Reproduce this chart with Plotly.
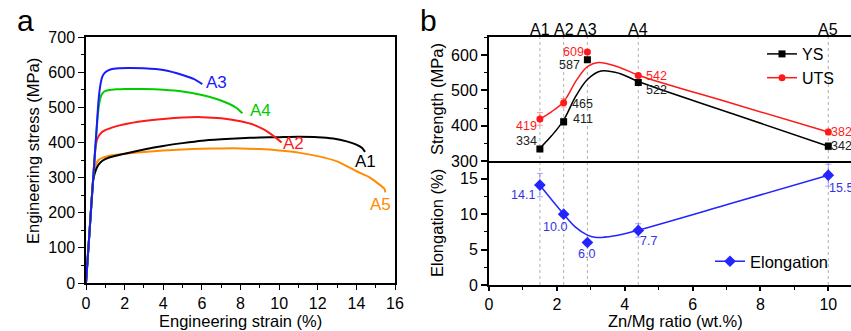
import plotly.graph_objects as go

# ---------------- Panel a: stress-strain curves ----------------
a1_strain = [0, 0.2, 0.38, 0.5, 0.65, 0.85, 1.2, 2, 3, 4, 5, 6, 7, 8, 9, 10, 11, 12, 12.8, 13.5, 14.0, 14.3, 14.45]
a1_stress = [0, 160, 295, 320, 337, 348, 357, 368, 380, 390, 398, 405, 409, 412, 414, 415, 416, 415, 411, 403, 394, 384, 373]
a2_strain = [0, 0.2, 0.4, 0.5, 0.6, 0.8, 1.0, 1.5, 2, 3, 4, 5, 6, 7, 8, 8.7, 9.2, 9.6, 9.9, 10.13]
a2_stress = [0, 160, 320, 390, 412, 428, 435, 445, 452, 461, 467, 471, 472, 469, 460, 450, 437, 423, 410, 400]
a3_strain = [0, 0.2, 0.4, 0.55, 0.65, 0.75, 0.85, 1.0, 1.3, 1.7, 2.2, 3, 4, 5, 5.6, 6.02]
a3_stress = [0, 160, 320, 440, 520, 565, 588, 600, 608, 611, 612, 611, 606, 592, 580, 566]
a4_strain = [0, 0.2, 0.4, 0.6, 0.7, 0.8, 0.95, 1.2, 1.6, 2, 3, 4, 5, 6, 6.8, 7.4, 7.8, 8.0, 8.1]
a4_stress = [0, 160, 320, 470, 515, 535, 545, 549, 551, 552, 552, 550, 545, 535, 523, 510, 498, 488, 483]
a5_strain = [0, 0.2, 0.38, 0.5, 0.65, 0.85, 1.2, 2, 3, 4, 5, 6, 7, 8, 9, 10, 11, 12, 13, 14, 14.7, 15.2, 15.45, 15.5]
a5_stress = [0, 160, 300, 335, 350, 356, 362, 368, 373, 377, 380, 382, 383, 383, 381, 377, 371, 361, 346, 318, 300, 280, 268, 258]

curve_names = ["A1", "A2", "A3", "A4", "A5"]
curve_label_x = [14.48, 10.74, 6.78, 9.06, 15.26]
curve_label_y = [347, 396, 571, 492, 224]

# ---------------- Panel b: strength & elongation ----------------
alloys = ["A1", "A2", "A3", "A4", "A5"]
zn_mg = [1.5, 2.2, 2.9, 4.4, 10.0]
ys = [334, 411, 587, 522, 342]
ys_err = [6, 10, 5, 6, 10]
uts = [419, 465, 609, 542, 382]
uts_err = [18, 12, 5, 6, 8]
elong = [14.1, 10.0, 6.0, 7.7, 15.5]
elong_err = [1.65, 0.3, 0.3, 0.95, 1.55]
ys_text = ["334", "411", "587", "522", "342"]
uts_text = ["419", "465", "609", "542", "382"]
elong_text = ["14.1", "10.0", "6.0", "7.7", "15.5"]

# fitted (smooth) curves
ys_fit_x = [1.5, 1.85, 2.2, 2.55, 2.9, 3.3, 3.85, 4.4, 7.2, 10.0]
ys_fit_y = [336, 372, 416, 482, 531, 555, 548, 525, 433, 342]
uts_fit_x = [1.5, 1.85, 2.2, 2.58, 2.9, 3.22, 3.85, 4.4, 7.2, 10.0]
uts_fit_y = [419, 440, 468, 529, 567, 579, 565, 543, 462, 382]
el_fit_x = [1.5, 2.2, 2.54, 2.9, 3.17, 3.66, 4.4, 7.2, 10.0]
el_fit_y = [14.08, 10.0, 8.2, 7.04, 6.7, 6.9, 7.75, 11.6, 15.5]

FONT = "Arial, Liberation Sans, sans-serif"
W, H = 851, 331

def px_x(p):
    return p / W

def px_y(p):
    return (H - p) / H

fig = go.Figure()

colors_a = ["#000000", "#ff1a1a", "#1a1aff", "#00cc00", "#ff8c00"]
strains = [a1_strain, a2_strain, a3_strain, a4_strain, a5_strain]
stresses = [a1_stress, a2_stress, a3_stress, a4_stress, a5_stress]
for i in [4, 0, 1, 3, 2]:
    fig.add_trace(go.Scatter(x=strains[i], y=stresses[i], mode="lines",
                             line=dict(color=colors_a[i], width=2, shape="spline", smoothing=0.6),
                             showlegend=False, xaxis="x", yaxis="y", hoverinfo="skip"))

annotations = []
for i, name in enumerate(curve_names):
    annotations.append(dict(x=curve_label_x[i], y=curve_label_y[i], xref="x", yref="y",
                            text=name, showarrow=False, xanchor="center", yanchor="middle",
                            font=dict(family=FONT, size=17, color=colors_a[i])))

RED = "#ff1a1a"
BLUE = "#2424ff"
DARK = "#222222"
# upper panel (x3 / y3)
fig.add_trace(go.Scatter(x=ys_fit_x, y=ys_fit_y, mode="lines", line=dict(color="#000000", width=1.5, shape="spline", smoothing=1.0),
                         showlegend=False, xaxis="x3", yaxis="y3", hoverinfo="skip"))
fig.add_trace(go.Scatter(x=uts_fit_x, y=uts_fit_y, mode="lines", line=dict(color=RED, width=1.5, shape="spline", smoothing=1.0),
                         showlegend=False, xaxis="x3", yaxis="y3", hoverinfo="skip"))
fig.add_trace(go.Scatter(x=zn_mg, y=ys, mode="markers", marker=dict(symbol="square", size=7, color="#000000"),
                         error_y=dict(type="data", array=ys_err, color="rgba(120,120,120,0.7)", thickness=1, width=3),
                         showlegend=False, xaxis="x3", yaxis="y3"))
fig.add_trace(go.Scatter(x=zn_mg, y=uts, mode="markers", marker=dict(symbol="circle", size=7, color=RED),
                         error_y=dict(type="data", array=uts_err, color="rgba(255,110,110,0.7)", thickness=1, width=3),
                         showlegend=False, xaxis="x3", yaxis="y3"))
# lower panel (x2 / y2)
fig.add_trace(go.Scatter(x=el_fit_x, y=el_fit_y, mode="lines", line=dict(color=BLUE, width=1.5, shape="spline", smoothing=1.0),
                         showlegend=False, xaxis="x2", yaxis="y2", hoverinfo="skip"))
fig.add_trace(go.Scatter(x=zn_mg, y=elong, mode="markers", marker=dict(symbol="diamond", size=9, color=BLUE),
                         error_y=dict(type="data", array=elong_err, color="rgba(110,110,255,0.6)", thickness=1, width=3),
                         showlegend=False, xaxis="x2", yaxis="y2"))
# legend entries
fig.add_trace(go.Scatter(x=[None], y=[None], mode="lines+markers", name="YS",
                         line=dict(color="#000000", width=1.5), marker=dict(symbol="square", size=7, color="#000000"),
                         xaxis="x3", yaxis="y3", legend="legend"))
fig.add_trace(go.Scatter(x=[None], y=[None], mode="lines+markers", name="UTS",
                         line=dict(color=RED, width=1.5), marker=dict(symbol="circle", size=7, color=RED),
                         xaxis="x3", yaxis="y3", legend="legend"))
fig.add_trace(go.Scatter(x=[None], y=[None], mode="lines+markers", name="Elongation",
                         line=dict(color=BLUE, width=1.5), marker=dict(symbol="diamond", size=9, color=BLUE),
                         xaxis="x2", yaxis="y2", legend="legend2"))

uts_off = [(-13, -7), (19, -1), (-14, 0), (18, 0), (13, 0)]
uts_label_colors = [RED, DARK, RED, RED, RED]
ys_off = [(-13, 8), (19, 3), (-18, -5), (18, -7), (13, 0)]
el_off = [(-17, -10), (-9, -13), (-1, -12), (10, -11), (13, -13)]
for i in range(5):
    annotations.append(dict(x=zn_mg[i], y=uts[i], xref="x3", yref="y3", text=uts_text[i], showarrow=False,
                            xanchor="center", yanchor="middle", xshift=uts_off[i][0], yshift=uts_off[i][1],
                            font=dict(family=FONT, size=12.5, color=uts_label_colors[i])))
    annotations.append(dict(x=zn_mg[i], y=ys[i], xref="x3", yref="y3", text=ys_text[i], showarrow=False,
                            xanchor="center", yanchor="middle", xshift=ys_off[i][0], yshift=ys_off[i][1],
                            font=dict(family=FONT, size=12.5, color=DARK)))
    annotations.append(dict(x=zn_mg[i], y=elong[i], xref="x2", yref="y2", text=elong_text[i], showarrow=False,
                            xanchor="center", yanchor="middle", xshift=el_off[i][0], yshift=el_off[i][1],
                            font=dict(family=FONT, size=12.5, color="#3333e6")))
    annotations.append(dict(x=zn_mg[i], y=px_y(29), xref="x3", yref="paper", text=alloys[i], showarrow=False,
                            xanchor="center", yanchor="middle",
                            font=dict(family=FONT, size=16, color="black")))

def ann(x, y, text, size=16.5, angle=0):
    return dict(x=px_x(x), y=px_y(y), xref="paper", yref="paper", text=text, showarrow=False,
                xanchor="center", yanchor="middle", textangle=angle,
                font=dict(family=FONT, size=size, color="black"))

annotations += [
    ann(25, 20, "a", 30),
    ann(428, 20, "b", 30),
    ann(240.5, 321, "Engineering strain (%)"),
    ann(33, 151, "Engineering stress (MPa)", angle=-90),
    ann(675.6, 321, "Zn/Mg ratio (wt.%)"),
    ann(437, 99, "Strength (MPa)", angle=-90),
    ann(437, 223, "Elongation (%)", angle=-90),
]

shapes = []
for xv in zn_mg:
    shapes.append(dict(type="line", xref="x2", yref="paper", x0=xv, x1=xv, y0=px_y(285), y1=px_y(37),
                       line=dict(color="#b0b0b0", width=1, dash="dot"), layer="below"))

tickfont = dict(family=FONT, size=16, color="black")
xb_range = [0, (W - 489) / 33.93]

fig.update_layout(
    width=W, height=H, margin=dict(l=0, r=0, t=0, b=0, autoexpand=False),
    paper_bgcolor="white", plot_bgcolor="rgba(0,0,0,0)",
    font=dict(family=FONT, color="black"),
    annotations=annotations, shapes=shapes,
    xaxis=dict(domain=[px_x(86), px_x(395)], range=[0, 16], anchor="y", automargin=False,
               showline=True, linecolor="black", linewidth=1.5, mirror=True,
               ticks="outside", ticklen=5, tickwidth=1.2, tickcolor="black", dtick=2, tick0=0,
               minor=dict(ticks="outside", ticklen=3, dtick=1, tickcolor="black", tickwidth=1),
               showgrid=False, zeroline=False, tickfont=tickfont),
    yaxis=dict(domain=[px_y(283), px_y(37)], range=[0, 700], anchor="x", automargin=False,
               showline=True, linecolor="black", linewidth=1.5, mirror=True,
               ticks="outside", ticklen=6, tickwidth=1.2, tickcolor="black", dtick=100, tick0=0,
               minor=dict(ticks="outside", ticklen=3, dtick=50, tickcolor="black", tickwidth=1),
               showgrid=False, zeroline=False, tickfont=tickfont),
    xaxis2=dict(domain=[px_x(489), 1.0], range=xb_range, anchor="y2", automargin=False,
                showline=True, linecolor="black", linewidth=2,
                ticks="outside", ticklen=4, tickwidth=1.5, tickcolor="black", dtick=2, tick0=0,
                minor=dict(ticks="outside", ticklen=3, dtick=1, tickcolor="black", tickwidth=1),
                showgrid=False, zeroline=False, tickfont=tickfont),
    yaxis2=dict(domain=[px_y(285), px_y(161)], range=[0, 17.5], anchor="x2", automargin=False,
                showline=True, linecolor="black", linewidth=2,
                ticks="outside", ticklen=6, tickwidth=1.5, tickcolor="black", tickvals=[0, 5, 10, 15],
                minor=dict(ticks="outside", ticklen=3, dtick=2.5, tick0=0, tickcolor="black", tickwidth=1),
                showgrid=False, zeroline=False, tickfont=tickfont),
    xaxis3=dict(domain=[px_x(489), 1.0], range=xb_range, anchor="y3", automargin=False,
                showline=True, linecolor="black", linewidth=2, mirror=True, ticks="", showticklabels=False,
                showgrid=False, zeroline=False),
    yaxis3=dict(domain=[px_y(161), px_y(36.7)], range=[300, 652], anchor="x3", automargin=False,
                showline=True, linecolor="black", linewidth=2,
                ticks="outside", ticklen=6, tickwidth=1.5, tickcolor="black", tickvals=[300, 400, 500, 600],
                minor=dict(ticks="outside", ticklen=3, dtick=50, tick0=300, tickcolor="black", tickwidth=1),
                showgrid=False, zeroline=False, tickfont=tickfont),
    legend=dict(x=px_x(762), y=px_y(37), xanchor="left", yanchor="top", bgcolor="rgba(0,0,0,0)",
                font=dict(family=FONT, size=16, color="black"), tracegroupgap=0),
    legend2=dict(x=px_x(710), y=px_y(244), xanchor="left", yanchor="top", bgcolor="rgba(0,0,0,0)",
                 font=dict(family=FONT, size=16.5, color="black")),
)

fig.write_html("out.html")
